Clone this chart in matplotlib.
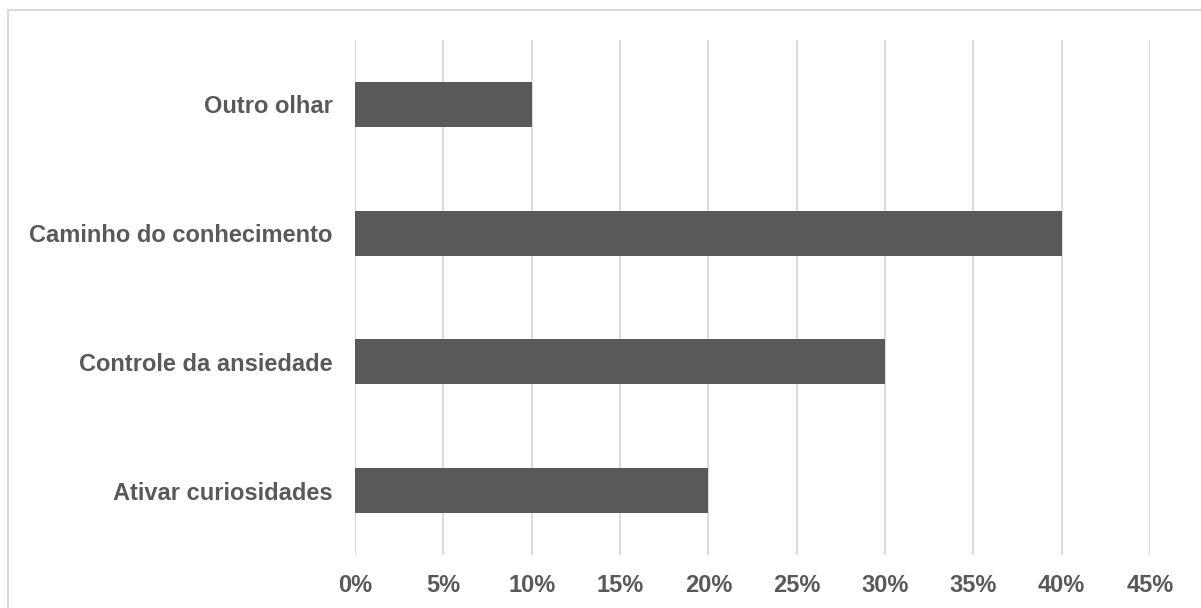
import matplotlib.pyplot as plt
from matplotlib.patches import Rectangle
from matplotlib.ticker import FuncFormatter

# dados
categorias = ['Ativar curiosidades', 'Controle da ansiedade',
              'Caminho do conhecimento', 'Outro olhar']
valores = [0.20, 0.30, 0.40, 0.10]
ticks_x = [0, 0.05, 0.10, 0.15, 0.20, 0.25, 0.30, 0.35, 0.40, 0.45]

cor_barra = '#595959'
cor_texto = '#595959'
cor_grade = '#d9d9d9'

plt.rcParams['font.family'] = ['Liberation Sans', 'DejaVu Sans']

fig = plt.figure(figsize=(12.01, 6.08), dpi=100)
ax = fig.add_axes([355 / 1201, 1 - 555 / 608, (1150 - 355) / 1201, (555 - 40) / 608])

ax.barh(range(len(categorias)), valores, height=0.35, color=cor_barra, zorder=3)

ax.set_xlim(0, 0.45)
ax.set_ylim(-0.5, len(categorias) - 0.5)
ax.set_xticks(ticks_x)
ax.xaxis.set_major_formatter(FuncFormatter(lambda v, p: f'{v * 100:.0f}%'))
ax.set_yticks(range(len(categorias)))
ax.set_yticklabels(categorias)

ax.grid(axis='x', color=cor_grade, linewidth=1.3, zorder=0)
for lado in ['top', 'right', 'bottom', 'left']:
    ax.spines[lado].set_visible(False)
ax.tick_params(axis='both', length=0, labelsize=17, labelcolor=cor_texto)
ax.tick_params(axis='x', pad=14)
ax.tick_params(axis='y', pad=16)
for rotulo in ax.get_xticklabels() + ax.get_yticklabels():
    rotulo.set_fontweight('bold')

# borda do gráfico
fig.patches.append(Rectangle((8 / 1201, -0.05), 1.1, 1 - 10 / 608 + 0.05,
                             transform=fig.transFigure, fill=False,
                             edgecolor=cor_grade, linewidth=1.5))

fig.savefig('out.png', dpi=100)
